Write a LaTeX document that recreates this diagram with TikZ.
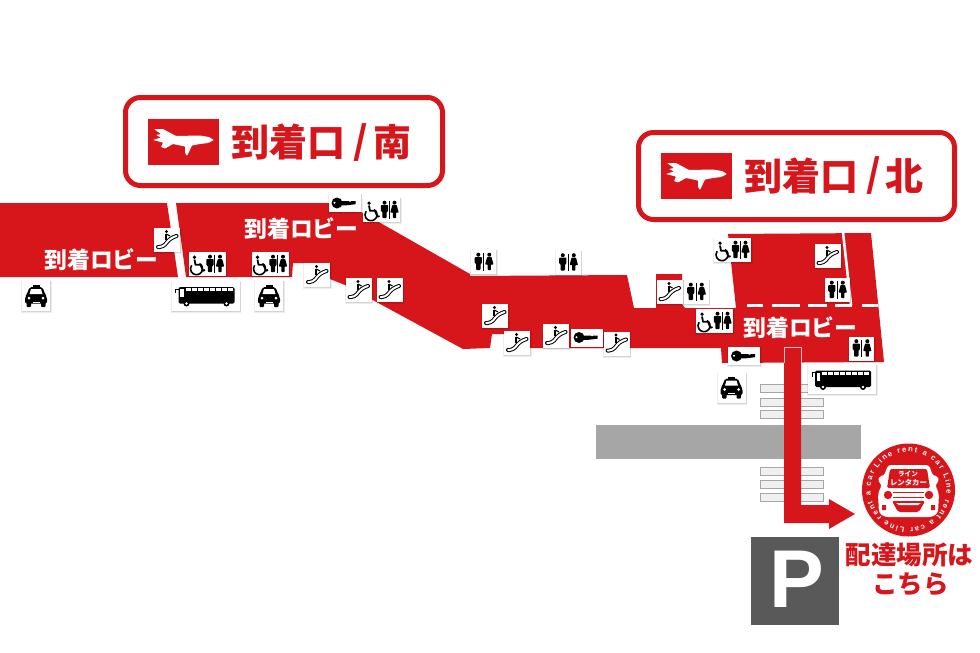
\documentclass[tikz,border=0pt]{standalone}
\usepackage{fontspec}
\usetikzlibrary{decorations.text,arrows.meta}
\newfontfamily\jpfont{Noto Sans CJK JP}
\setmainfont{Liberation Sans}
\definecolor{lred}{HTML}{D7161B}
\tikzset{
 x=1pt,y=-1pt,
 floor/.style={fill=lred,draw=none},
 lobby/.style={font=\jpfont\bfseries\fontsize{22.8}{22.8}\selectfont,text=white,inner sep=0pt},
 titletext/.style={font=\jpfont\bfseries\fontsize{38}{38}\selectfont,text=lred,inner sep=0pt},
 titlebox/.style={draw=lred,line width=5pt,rounded corners=15pt,fill=white},
 zebra/.style={fill=white!94!black,draw=black!35,line width=.6pt},
 dashline/.style={draw=white,line width=3pt},
 pics/iconbg/.style n args={2}{code={
   \fill[black,opacity=.07] (-#1/2-1,-#2/2) rectangle (#1/2+1.8,#2/2+2.2);
   \fill[black,opacity=.10] (-#1/2,-#2/2) rectangle (#1/2+1,#2/2+1.1);
   \fill[white] (-#1/2,-#2/2) rectangle (#1/2,#2/2);
 }},
 pics/manfig/.style={code={
   \fill[black] (0,-7.3) circle[radius=2pt];
   \fill[black,rounded corners=.8pt] (-3.6,-5) -- (3.6,-5) -- (3.6,1.5) -- (2.2,1.5) -- (2.2,8) -- (-2.2,8) -- (-2.2,1.5) -- (-3.6,1.5) -- cycle;
 }},
 pics/womanfig/.style={code={
   \fill[black] (0,-7.3) circle[radius=2pt];
   \fill[black,rounded corners=.6pt] (-2.2,-5) -- (2.2,-5) -- (4.2,2.5) -- (1.6,2.5) -- (1.6,8) -- (-1.6,8) -- (-1.6,2.5) -- (-4.2,2.5) -- cycle;
 }},
 pics/esc/.style={code={
   \pic at (0,0) {iconbg={26}{24}};
   \draw[black,line width=4pt,line cap=round,rounded corners=3.5pt] (-9,7) -- (-4,7) -- (3,-1.5) -- (9.5,-4);
   \draw[white,line width=2pt,line cap=round,rounded corners=3.5pt] (-9,7) -- (-4,7) -- (3,-1.5) -- (9.5,-4);
   \fill[black] (-.5,-8.5) circle[radius=1.6pt];
   \draw[black,line width=1.8pt] (-.8,-6.5) -- (-.8,-.5);
   \draw[black,line width=1.1pt] (-.8,-6) -- (3,-4);
 }},
 pics/wc/.style={code={
   \pic at (0,0) {iconbg={25}{24}};
   \pic at (-5.2,0) {manfig};
   \pic at (5.8,0) {womanfig};
   \draw[black,line width=.7pt] (.3,-9) -- (.3,8.5);
 }},
 pics/wcx/.style={code={
   \pic at (0,0) {iconbg={37}{24}};
   \pic at (3,0) {manfig};
   \pic at (13,0) {womanfig};
   \draw[black,line width=.7pt] (7.6,-9) -- (7.6,8.5);
   \fill[black] (-12.5,-6.8) circle[radius=1.8pt];
   \draw[black,line width=1.6pt] (-7.5,-.5) arc[start angle=60,end angle=-215,radius=6pt];
   \draw[black,line width=1.8pt,line join=round] (-12.5,-4.5) -- (-11.5,.8) -- (-6.5,.8) -- (-4,6.8) -- (-2,6);
 }},
 pics/keyicon/.style={code={
   \pic at (0,0) {iconbg={32}{18}};
   \fill[black] (-7.5,0) circle[radius=5.5pt];
   \fill[black] (-4,-2) -- (4,-2) -- (5.5,-.9) -- (7,-2) -- (11,-2) -- (11,1.2) -- (2,2.3) -- (-4,2.3) -- cycle;
   \fill[white] (-10,-.3) circle[radius=1.1pt];
 }},
 pics/taxi/.style={code={
   \pic at (0,0) {iconbg={28}{30}};
   \fill[black] (-3.5,-11) rectangle (3.5,-8.5);
   \fill[black,rounded corners=2pt] (-6.5,-9) -- (6.5,-9) -- (9,-2) -- (11,1) -- (11,7.5) -- (-11,7.5) -- (-11,1) -- (-9,-2) -- cycle;
   \fill[white] (-5,-7) -- (5,-7) -- (6.5,-2) -- (-6.5,-2) -- cycle;
   \fill[black,rounded corners=1pt] (-9.5,6) rectangle (-5,11);
   \fill[black,rounded corners=1pt] (5,6) rectangle (9.5,11);
   \fill[white] (-7,2) circle[radius=1.5pt] (7,2) circle[radius=1.5pt];
   \fill[white] (-3.5,5.5) rectangle (3.5,6.3);
 }},
 pics/busicon/.style={code={
   \pic at (0,0) {iconbg={68}{29}};
   \fill[black,rounded corners=1.5pt] (-27,-9) rectangle (29,7.5);
   \fill[white] (-25.5,-7) rectangle (-22,1);
   \foreach \bx in {-20,-14,-8,-2,4,10,16,22}{\fill[white] (\bx,-7.8) rectangle (\bx+5,-5);}
   \draw[black,line width=1pt] (-27,-7) -- (-30,-7) -- (-30,-3);
   \foreach \bx in {-19,21}{\fill[black] (\bx,7.5) circle[radius=3pt]; \fill[white] (\bx,7.5) circle[radius=1.3pt];}
 }},
}
\begin{document}
\begin{tikzpicture}
\useasboundingbox[fill=white] (0,0) rectangle (980,653);
% floors
\fill[floor] (0,203) -- (167,203) -- (178,277) -- (0,277) -- cycle;
\fill[floor] (176,203) -- (340,203) -- (363,213) -- (470,274) -- (470,276) -- (627,275) -- (634,308) -- (656,308) -- (656,274) -- (682,274) -- (682,304) -- (685,308) -- (736,308) -- (728,234) -- (871,233) -- (884,362) -- (722,363) -- (721,348) -- (515,348) -- (517,334) -- (492,334) -- (490,348) -- (463,349) -- (345,285) -- (330,279) -- (305,263) -- (293,263) -- (292,277) -- (186,277) -- cycle;
\draw[white,line width=2.6pt] (843,232) -- (851,305);
\foreach \a/\b in {747/763,772/800,808/827,835/852,862/878}{\draw[dashline] (\a,305.5) -- (\b,305.5);}
% crosswalks and road
\foreach \yy in {384,398,410,467,480,493}{\draw[zebra] (760,\yy) rectangle (823,\yy+8);}
\fill[black!35] (596,425) rectangle (861,459);
% route arrow
\fill[lred] (784,347) -- (801,347) -- (801,505) -- (829,505) -- (829,499) -- (855,514) -- (829,529) -- (829,523) -- (784,523) -- cycle;
\draw[white!75!lred,line width=.5pt] (784,363) -- (784,347) -- (801,347) -- (801,363);
% title boxes
\draw[titlebox] (125.5,97.5) rectangle (442.5,185.5);
\draw[titlebox] (638.5,132.5) rectangle (954.5,219.5);
\foreach \ox/\oy in {148/119,661/153}{
 \begin{scope}[shift={(\ox,\oy)}]
  \fill[lred] (0,0) rectangle (71,46);
  \fill[white,rounded corners=.6pt] (6,10) -- (15,10) -- (28,17) -- (52,16.5) -- (61,18) -- (66,21) -- (60,24) -- (52,25) -- (44,26.5) -- (39,37) -- (37,34) -- (37,27.5) -- (25,25) -- (17,29.5) -- (13,28) -- (15,23.5) -- (5,21) -- (13,18.5) -- (8,16) -- (13,15) -- cycle;
 \end{scope}}
\node[titletext,anchor=west] (southa) at (231,142.5) {到着口};
\node[titletext,anchor=center] (southb) at (361,142.5) {/};
\node[titletext,anchor=center] (southc) at (392,142.5) {南};
\node[titletext,anchor=west] (northa) at (744,176) {到着口};
\node[titletext,anchor=center] (northb) at (874,176) {/};
\node[titletext,anchor=center] (northc) at (904,176) {北};
% lobby labels
\node[lobby] (lobbya) at (101.5,260) {到着ロビー};
\node[lobby] (lobbyb) at (301.5,229) {到着ロビー};
\node[lobby] (lobbyc) at (800.5,328) {到着ロビー};
% icons
\foreach \ix/\iy in {167/240,317/275,358.5/290,389.5/290,495/316,517/343,556/336,616.5/343.5,669.5/292,827.5/256}{\pic at (\ix,\iy) {esc};}
\foreach \ix/\iy in {207/264,270/264,381.5/210,732.5/250,714.5/321}{\pic at (\ix,\iy) {wcx};}
\foreach \ix/\iy in {483.5/262,568/262.5,696/292,837/290,861.5/348.5}{\pic at (\ix,\iy) {wc};}
\foreach \ix/\iy in {344.5/203,586.5/337.5,744/356}{\pic at (\ix,\iy) {keyicon};}
\foreach \ix/\iy in {36/296,269/296,731.5/387.5}{\pic at (\ix,\iy) {taxi};}
\foreach \ix/\iy in {205.5/296,842/379.5}{\pic at (\ix,\iy) {busicon};}
% parking
\fill[black!65] (751,537) rectangle (839,625);
\node[font=\bfseries\fontsize{82}{82}\selectfont,text=white,inner sep=0pt] (psign) at (797,579) {P};
% logo
\fill[lred] (908.5,490) circle[radius=46.5pt];
\fill[white,rounded corners=3pt] (888,465) -- (929,465) -- (933,476) -- (938,476) -- (939,482) -- (935,484) -- (939,494) -- (938,513) -- (932,517) -- (885,517) -- (879,513) -- (878,494) -- (882,484) -- (878,482) -- (879,476) -- (884,476) -- cycle;
\fill[lred,rounded corners=1.5pt] (890,469) -- (927,469) -- (930,488) -- (887,488) -- cycle;
\fill[lred] (888,495) circle[radius=4.2pt] (929,495) circle[radius=4.2pt];
\draw[lred,line width=.7pt] (893,492) -- (924,492) (893,497) -- (924,497);
\fill[lred,rounded corners=2pt] (892,501) -- (925,501) -- (919,512) -- (898,512) -- cycle;
\fill[white] (896,503) -- (921,503) -- (918,505) -- (899,505) -- cycle;
\fill[lred] (882,505) rectangle (886,510) (931,505) rectangle (935,510);
\node[font=\jpfont\bfseries\fontsize{6.6}{6.6}\selectfont,text=white,inner sep=0pt] (logoa) at (908,474) {ライン};
\node[font=\jpfont\bfseries\fontsize{7.4}{7.4}\selectfont,text=white,inner sep=0pt] (logob) at (908.5,483) {レンタカー};
\path[decorate,decoration={text along path,text align=fit to path,
 text={|\bfseries\fontsize{7.6}{7.6}\selectfont\color{white}|Line rent a car Line rent a car Line rent a car}}]
 ([shift={(145:38pt)}]908.5,490) arc[start angle=145,end angle=-208,radius=38pt];
% delivery text
\node[font=\jpfont\bfseries\fontsize{25.5}{25.5}\selectfont,text=lred,inner sep=0pt] (delivery) at (909.5,555) {配達場所は};
\node[font=\jpfont\bfseries\fontsize{25.5}{25.5}\selectfont,text=lred,inner sep=0pt] (kochira) at (910.5,584) {こちら};
\end{tikzpicture}
\end{document}
